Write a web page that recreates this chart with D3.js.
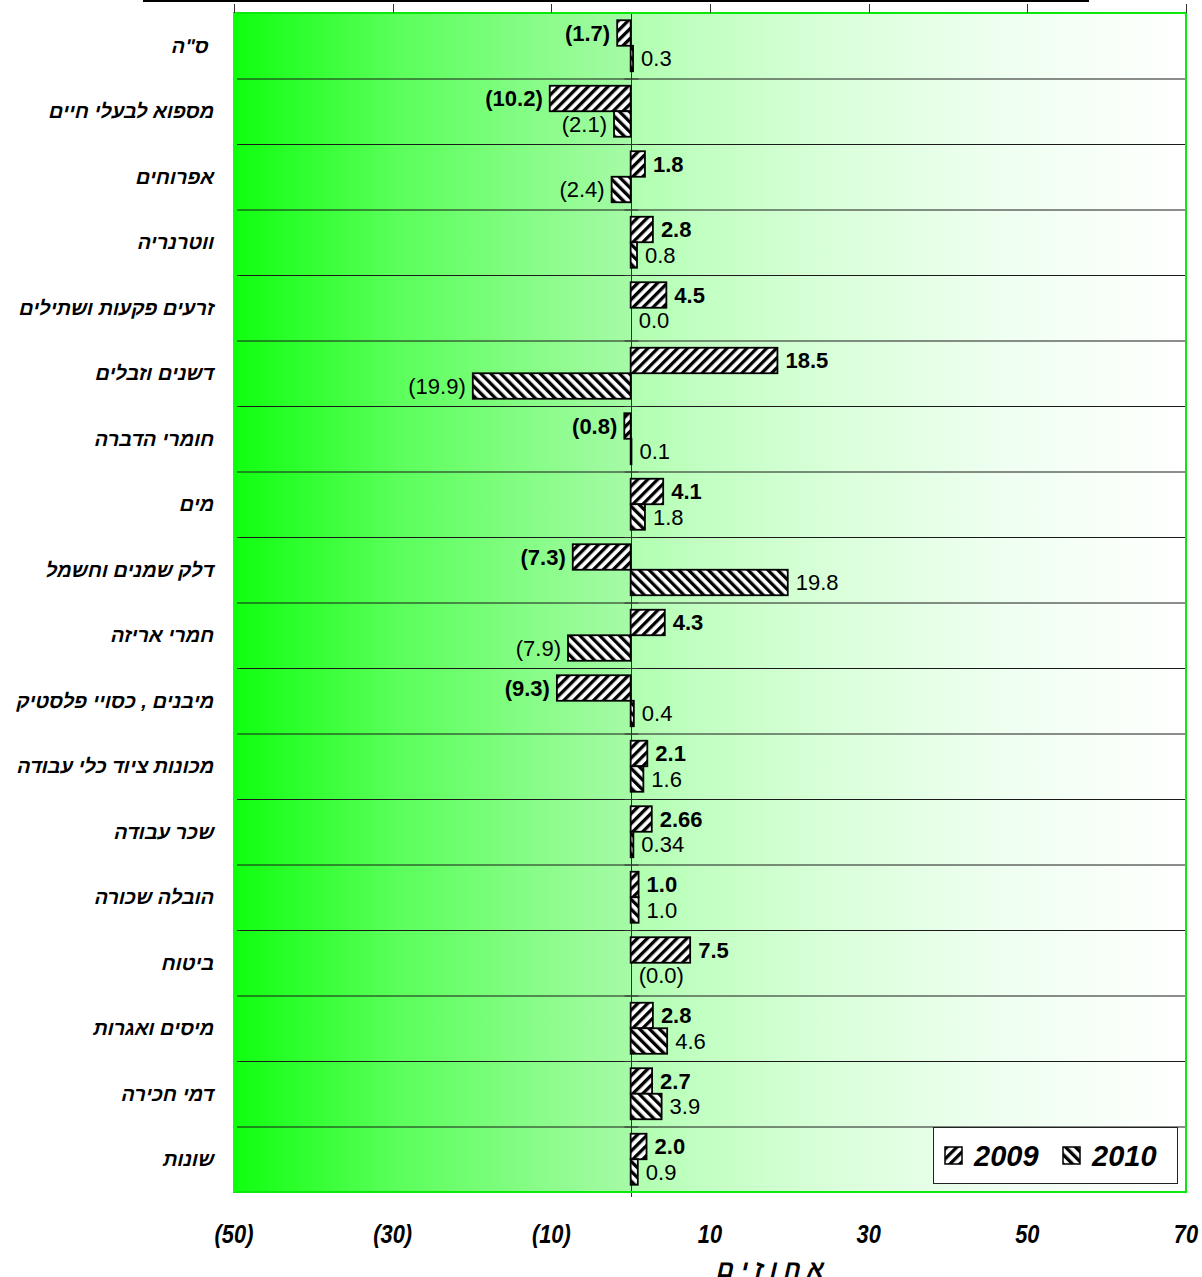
<!DOCTYPE html>
<html>
<head>
<meta charset="utf-8">
<script src="https://cdn.jsdelivr.net/npm/d3@7"></script>
<style>
    body { margin: 0; background: #fff; }
    svg { display: block; }
    text { font-family: "Liberation Sans", Arial, sans-serif; }
</style>
</head>
<body>
<svg id="chart" width="1202" height="1277"></svg>
<script>
var categories = ["ס\"ה\u00a0", "מספוא לבעלי חיים", "אפרוחים", "ווטרנריה", "זרעים פקעות ושתילים",
    "דשנים וזבלים", "חומרי הדברה", "מים", "דלק שמנים וחשמל", "חמרי אריזה",
    "מיבנים , כסויי פלסטיק", "מכונות ציוד כלי עבודה", "שכר עבודה", "הובלה שכורה",
    "ביטוח", "מיסים ואגרות", "דמי חכירה", "שונות"];
var seriesNames = ["2009", "2010"];
var values2009 = [-1.7, -10.2, 1.8, 2.8, 4.5, 18.5, -0.8, 4.1, -7.3, 4.3, -9.3, 2.1, 2.66, 1.0, 7.5, 2.8, 2.7, 2.0];
var values2010 = [0.3, -2.1, -2.4, 0.8, 0.0, -19.9, 0.1, 1.8, 19.8, -7.9, 0.4, 1.6, 0.34, 1.0, -0.0, 4.6, 3.9, 0.9];
var xTicks = [-50, -30, -10, 10, 30, 50, 70];
var axisTitle = "א ח ו ז י ם";

(function () {
    var svg = d3.select("#chart"),
        plot = { left: 234, right: 1186, top: 13, bottom: 1192 };

    var x = d3.scaleLinear()
        .domain([-50, 70])
        .range([plot.left, plot.right]);

    var y = d3.scaleBand()
        .domain(categories)
        .range([plot.top, plot.bottom])
        .paddingInner(0)
        .paddingOuter(0);

    var ySub = d3.scaleBand()
        .domain(seriesNames)
        .range([0, y.bandwidth()])
        .paddingInner(0)
        .paddingOuter(0.284);

    var data = categories.map(function (c, i) {
        return { cat: c, vals: [values2009[i], values2010[i]] };
    });

    var defs = svg.append("defs");

    var grad = defs.append("linearGradient")
        .attr("id", "bgGrad")
        .attr("x1", "0%").attr("x2", "100%")
        .attr("y1", "0%").attr("y2", "0%");
    [[0, "#10ff10"], [0.17, "#5aff5a"], [0.33, "#8cfc8c"], [0.415, "#a6faa6"],
        [0.42, "#b0ffb0"], [0.49, "#c2ffc2"], [0.63, "#daffda"], [0.8, "#eefff0"],
        [0.96, "#fbfffb"], [1, "#ffffff"]].forEach(function (s) {
        grad.append("stop").attr("offset", s[0]).attr("stop-color", s[1]);
    });

    // hatch patterns: 2009 "/" , 2010 "\"
    [["hatch2009", 45], ["hatch2010", -45]].forEach(function (p) {
        var pat = defs.append("pattern")
            .attr("id", p[0])
            .attr("patternUnits", "userSpaceOnUse")
            .attr("width", 7)
            .attr("height", 7)
            .attr("patternTransform", "rotate(" + p[1] + ")");
        pat.append("rect").attr("width", 7).attr("height", 7).attr("fill", "#fff");
        pat.append("rect").attr("x", 0).attr("width", 3.3).attr("height", 7).attr("fill", "#000");
    });

    // plot background
    svg.append("rect")
        .attr("x", plot.left)
        .attr("y", plot.top)
        .attr("width", plot.right - plot.left)
        .attr("height", plot.bottom - plot.top)
        .attr("fill", "url(#bgGrad)");

    // row separators
    svg.append("g")
        .selectAll("line")
        .data(categories.slice(1))
        .enter().append("line")
        .attr("x1", plot.left)
        .attr("x2", plot.right)
        .attr("y1", function (d) { return y(d) + 0.5; })
        .attr("y2", function (d) { return y(d) + 0.5; })
        .attr("stroke", "#1a1a1a")
        .attr("stroke-width", 1);

    // zero axis with crossing ticks
    var zx = Math.round(x(0)) + 0.5;
    svg.append("line")
        .attr("x1", zx).attr("x2", zx)
        .attr("y1", plot.top).attr("y2", plot.bottom + 5)
        .attr("stroke", "#333")
        .attr("stroke-width", 1);
    svg.append("g")
        .selectAll("line")
        .data(categories.concat(["end"]))
        .enter().append("line")
        .attr("x1", zx - 7)
        .attr("x2", zx + 7)
        .attr("y1", function (d, i) { return plot.top + i * y.step() + 0.5; })
        .attr("y2", function (d, i) { return plot.top + i * y.step() + 0.5; })
        .attr("stroke", "#333")
        .attr("stroke-width", 1);

    // green frame
    svg.append("rect")
        .attr("x", plot.left)
        .attr("y", plot.top)
        .attr("width", plot.right - plot.left)
        .attr("height", plot.bottom - plot.top)
        .attr("fill", "none")
        .attr("stroke", "#0be80b")
        .attr("stroke-width", 2);
    svg.append("line")
        .attr("x1", plot.left + 1).attr("x2", plot.left + 1)
        .attr("y1", plot.top).attr("y2", plot.bottom)
        .attr("stroke", "#0bff0b")
        .attr("stroke-width", 4);

    // bars
    var rows = svg.append("g")
        .selectAll(".row")
        .data(data)
        .enter().append("g")
        .attr("class", "row")
        .attr("transform", function (d) { return "translate(0," + y(d.cat) + ")"; });

    var fmt = function (v) {
        var s = Math.abs(v).toString();
        if (s.indexOf(".") < 0) s += ".0";
        return (v < 0 || 1 / v < 0) ? "(" + s + ")" : s;
    };

    rows.selectAll("rect")
        .data(function (d) {
            return d.vals.map(function (v, i) { return { s: seriesNames[i], v: v }; });
        })
        .enter().append("rect")
        .attr("x", function (d) { return x(Math.min(0, d.v)); })
        .attr("y", function (d) { return ySub(d.s); })
        .attr("width", function (d) { return Math.abs(x(d.v) - x(0)); })
        .attr("height", ySub.bandwidth())
        .attr("fill", function (d) { return "url(#hatch" + d.s + ")"; })
        .attr("stroke", "#000")
        .attr("stroke-width", 1.8)
        .attr("display", function (d) { return d.v === 0 ? "none" : null; });

    rows.selectAll("text")
        .data(function (d) {
            return d.vals.map(function (v, i) { return { s: seriesNames[i], v: v }; });
        })
        .enter().append("text")
        .attr("x", function (d) { return d.v < 0 ? x(d.v) - 7 : x(d.v) + 8; })
        .attr("y", function (d) { return ySub(d.s) + ySub.bandwidth() / 2; })
        .attr("dy", "0.36em")
        .attr("text-anchor", function (d) { return d.v < 0 ? "end" : "start"; })
        .style("font-size", "22px")
        .style("font-weight", function (d) { return d.s === "2009" ? "bold" : "normal"; })
        .attr("fill", "#000")
        .text(function (d) { return fmt(d.v); });

    // category labels (slanted by hand, the Hebrew face has no italic)
    svg.append("g")
        .selectAll("text")
        .data(categories)
        .enter().append("text")
        .attr("transform", function (d) {
            return "translate(213," + (y(d) + y.bandwidth() / 2 + 7) + ") skewX(-13)";
        })
        .attr("text-anchor", "end")
        .style("font-size", "20px")
        .style("font-weight", "bold")
        .text(function (d) { return d; });

    // top axis (secondary)
    svg.append("line")
        .attr("x1", 143).attr("x2", 1089)
        .attr("y1", 1).attr("y2", 1)
        .attr("stroke", "#000")
        .attr("stroke-width", 2);
    svg.append("g")
        .selectAll("line")
        .data(xTicks)
        .enter().append("line")
        .attr("x1", function (d) { return Math.round(x(d)) + 0.5; })
        .attr("x2", function (d) { return Math.round(x(d)) + 0.5; })
        .attr("y1", 4).attr("y2", plot.top)
        .attr("stroke", "#333")
        .attr("stroke-width", 1);

    // bottom tick labels (condensed)
    svg.append("g")
        .selectAll("text")
        .data(xTicks)
        .enter().append("text")
        .attr("transform", function (d) { return "translate(" + x(d) + ",1243) scale(0.84,1)"; })
        .attr("text-anchor", "middle")
        .style("font-size", "26px")
        .style("font-weight", "bold")
        .style("font-style", "italic")
        .text(function (d) { return d < 0 ? "(" + Math.abs(d) + ")" : d; });

    svg.append("text")
        .attr("transform", "translate(769,1277) skewX(-13)")
        .attr("text-anchor", "middle")
        .style("font-size", "24px")
        .style("font-weight", "bold")
        .text(axisTitle);

    // legend
    var lg = svg.append("g").attr("transform", "translate(933,1127)");
    lg.append("rect")
        .attr("x", 0.5).attr("y", 0.5)
        .attr("width", 244).attr("height", 56)
        .attr("fill", "#fff")
        .attr("stroke", "#222")
        .attr("stroke-width", 1);
    var items = lg.selectAll(".item")
        .data(seriesNames)
        .enter().append("g")
        .attr("class", "item")
        .attr("transform", function (d, i) { return "translate(" + (12 + i * 118) + ",0)"; });
    items.append("rect")
        .attr("x", 0).attr("y", 20)
        .attr("width", 17).attr("height", 17)
        .attr("fill", function (d) { return "url(#hatch" + d + ")"; })
        .attr("stroke", "#000")
        .attr("stroke-width", 1.5);
    items.append("text")
        .attr("x", 29)
        .attr("y", 39)
        .style("font-size", "29px")
        .style("font-weight", "bold")
        .style("font-style", "italic")
        .text(function (d) { return d; });
})();
</script>
</body>
</html>
